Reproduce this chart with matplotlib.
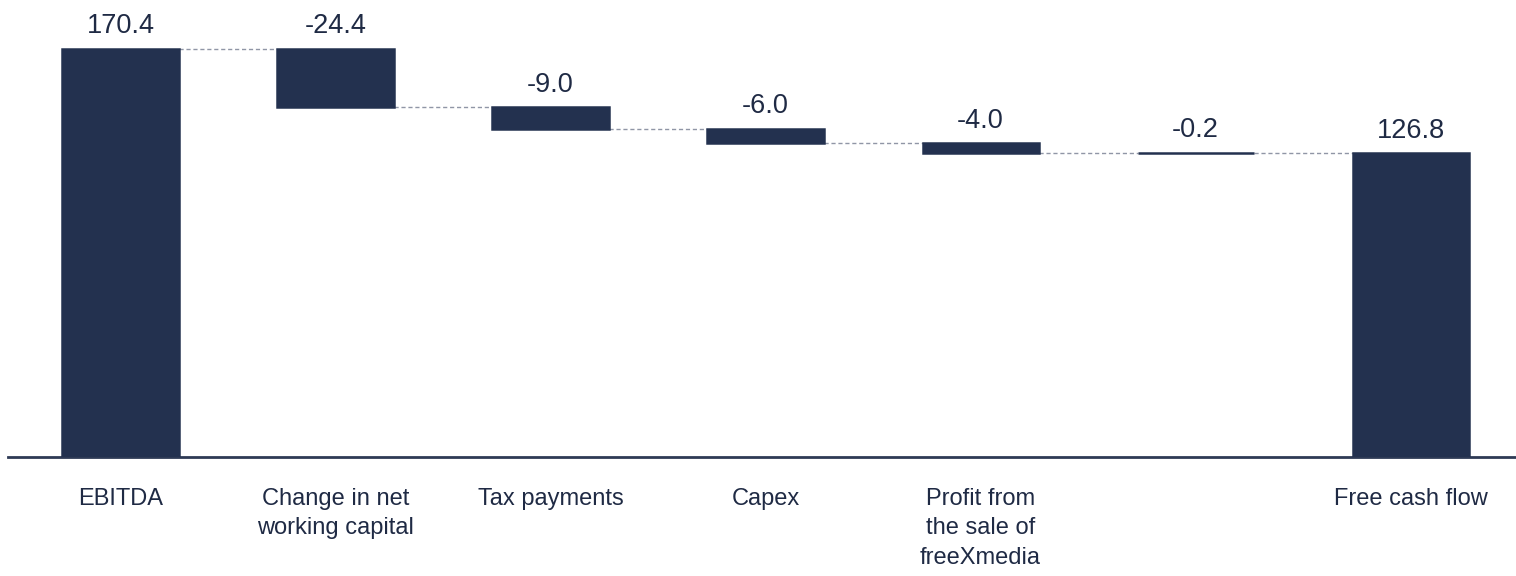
import numpy as np
import matplotlib.pyplot as plt

plt.rcParams['font.family'] = ['Liberation Sans', 'DejaVu Sans']

# Daten
kategorien = ['EBITDA', 'Change in net\nworking capital', 'Tax payments', 'Capex',
              'Profit from\nthe sale of\nfreeXmedia', '', 'Free cash flow']
werte = [170.4, -24.4, -9.0, -6.0, -4.0, -0.2, 126.8]
ist_summe = [True, False, False, False, False, False, True]

farbe = '#23314f'
textfarbe = '#1f2a44'

# Wasserfall: Start und Ende jedes Balkens
unten, oben = [], []
laufend = 0.0
for w, s in zip(werte, ist_summe):
    if s:
        unten.append(0.0)
        oben.append(w)
        laufend = w
    else:
        neu = laufend + w
        unten.append(min(laufend, neu))
        oben.append(max(laufend, neu))
        laufend = neu

x = np.arange(len(werte))
breite = 0.54

fig = plt.figure(figsize=(15.16, 5.76), dpi=100)
ax = fig.add_axes([8 / 1516, 119 / 576, 1508 / 1516, 457 / 576])

hoehen = np.array(oben) - np.array(unten)
ax.bar(x, hoehen, bottom=unten, width=breite, color=farbe,
       edgecolor=farbe, linewidth=1.8, zorder=3)

# Verbindungslinien (gestrichelt)
for i in range(len(werte) - 1):
    if ist_summe[i]:
        level = oben[i]
    elif werte[i] < 0:
        level = unten[i]
    else:
        level = oben[i]
    ax.plot([x[i] + breite / 2, x[i + 1] - breite / 2], [level, level],
            color='#9096a6', lw=1.0, ls=(0, (3, 2)), zorder=2)

# Wertebeschriftung
for i, w in enumerate(werte):
    ax.annotate(f'{w:.1f}', (x[i], oben[i]), xytext=(0, 7), textcoords='offset points',
                ha='center', va='bottom', fontsize=19.5, color=textfarbe)

ax.set_xlim(-0.523, 6.49)
ax.set_ylim(0, 190.9)
ax.set_xticks(x)
ax.set_xticklabels(kategorien, fontsize=17, color=textfarbe, va='top', linespacing=1.42)
ax.tick_params(axis='x', length=0, pad=22.5)
ax.set_yticks([])
for s in ['top', 'right', 'left']:
    ax.spines[s].set_visible(False)
ax.spines['bottom'].set_color('#2e3a55')
ax.spines['bottom'].set_linewidth(2)

plt.savefig('out.png', dpi=100)
